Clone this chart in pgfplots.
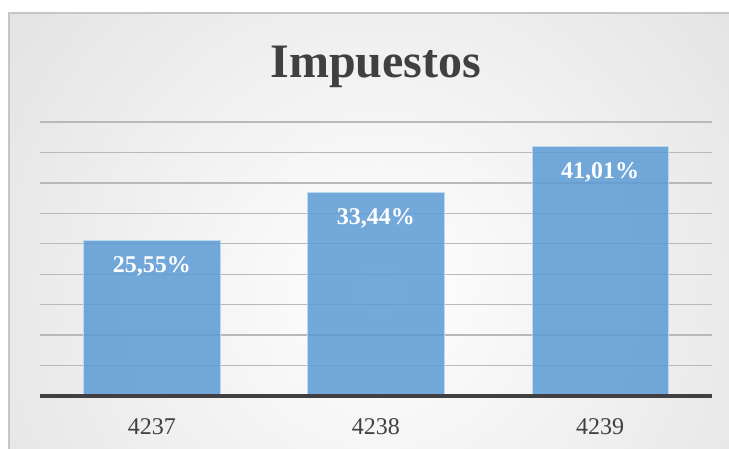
\documentclass[border=0pt]{standalone}
\usepackage{pgfplots}
\pgfplotsset{compat=1.18}
\usepackage{fontspec}
\setmainfont{Liberation Serif}
\definecolor{barblue}{RGB}{91,155,213}
\definecolor{txtgray}{RGB}{64,64,64}
\begin{document}
\begin{tikzpicture}
% page and chart area (1px = 0.5pt)
\fill[white] (0,0) rectangle (364.5pt,224.5pt);
\path[use as bounding box] (0,0) rectangle (364.5pt,224.5pt);
\begin{scope}
  \clip (4.5pt,0) rectangle (364.5pt,218pt);
  \fill[gray!42] (4.5pt,0) rectangle (364.5pt,218pt);
  \shade[inner color=white, outer color=gray!42] (190pt,79.5pt) circle (450pt);
\end{scope}
\draw[gray!45, line width=0.8pt] (4.5pt,0) -- (4.5pt,218pt) -- (364.5pt,218pt);
\node[anchor=base, font=\fontsize{24}{28}\selectfont\bfseries, text=txtgray] at (188pt,185.5pt) {Impuestos};
\begin{axis}[
  at={(20pt,26.5pt)}, anchor=south west,
  scale only axis, width=336pt, height=137pt,
  xmin=-0.5, xmax=2.5, ymin=0, ymax=45,
  clip=false,
  axis line style={draw=none},
  ytick={5,10,...,45}, yticklabels={},
  ymajorgrids, grid style={gray!55, line width=0.7pt},
  major tick length=0pt,
  xtick={0,1,2}, xticklabels={4237,4238,4239},
  xticklabel style={font=\fontsize{12}{14}\selectfont, text=txtgray, anchor=base, yshift=-19.5pt},
  ybar, bar width=68pt,
]
\addplot[fill=barblue, fill opacity=0.85, draw=barblue!40!white, line width=0.5pt,
  nodes near coords, point meta=explicit symbolic,
  nodes near coords style={text=white, text opacity=1, font=\fontsize{12}{14}\selectfont\bfseries, anchor=center, yshift=-13pt}]
  coordinates {(0,25.55) [{25,55\%}] (1,33.44) [{33,44\%}] (2,41.01) [{41,01\%}]};
\draw[txtgray, line width=1.6pt] (axis cs:-0.5,0) -- (axis cs:2.5,0);
\end{axis}
\end{tikzpicture}
\end{document}
